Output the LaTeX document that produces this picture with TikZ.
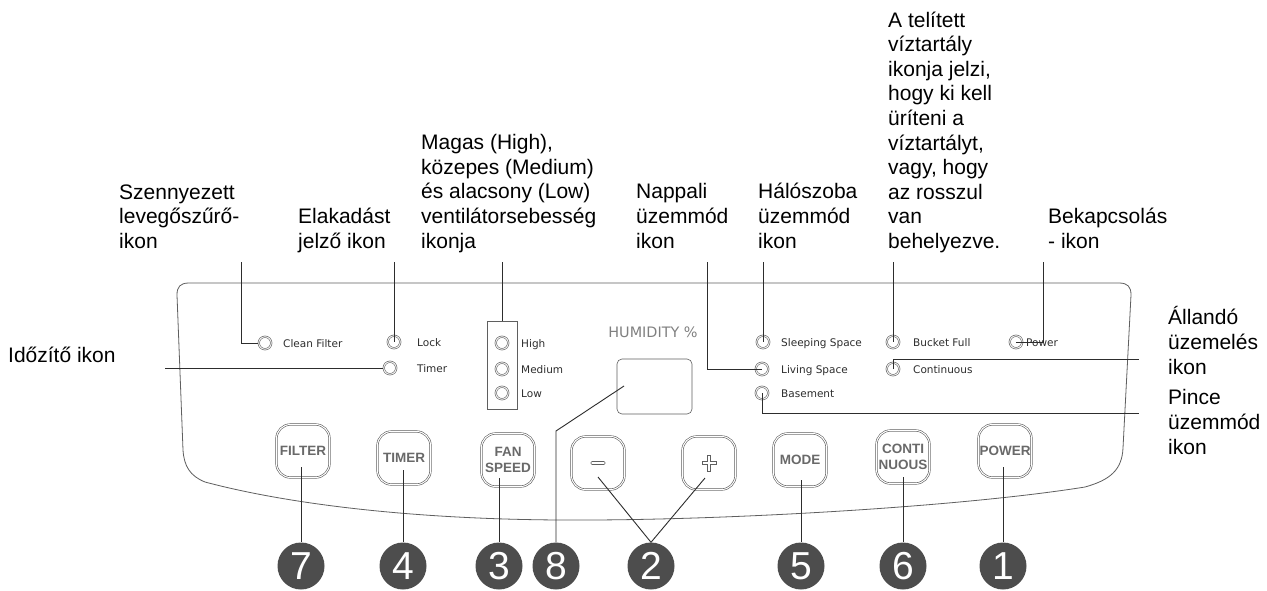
\documentclass[tikz,border=0pt]{standalone}
\usepackage{fontspec}
\setmainfont{Liberation Sans}
\newfontfamily\ledfont{DejaVu Sans}
\usetikzlibrary{calc}
\definecolor{badgecol}{RGB}{77,77,77}
\definecolor{ink}{RGB}{45,45,45}
\definecolor{btngray}{RGB}{105,105,105}
\definecolor{edgegray}{RGB}{95,95,95}
\begin{document}
\begin{tikzpicture}[x=1pt,y=-1pt,
  lbl/.style={font=\fontsize{21}{24.6}\selectfont, align=left, anchor=base west, inner sep=0pt, text=black},
  led/.style={circle, minimum size=12.5pt, inner sep=0pt, draw=edgegray, double=white, double distance=0.9pt, line width=0.6pt},
  ledtxt/.style={font=\ledfont\fontsize{10.5}{12}\selectfont, anchor=base west, inner sep=0pt, text=ink},
  btn/.style={draw=edgegray, double=white, double distance=1pt, line width=0.6pt, rounded corners=14pt, minimum width=53pt, minimum height=53pt, inner sep=0pt, font=\bfseries\fontsize{13.5}{15.5}\selectfont, text=btngray, align=center},
  badge/.style={circle, fill=badgecol, minimum size=47pt, inner sep=0pt, text=white, font=\fontsize{39}{40}\selectfont},
  conn/.style={draw=ink, line width=0.9pt},
  panel/.style={draw=edgegray, line width=0.8pt},
  glyph/.style={draw=edgegray, line width=0.6pt}]
\useasboundingbox[fill=white] (0,0) rectangle (1267,590);

% panel outline
\draw[panel] (183,450) -- (177,295) .. controls (177,287) and (180,283) .. (189,283)
  -- (1119,283) .. controls (1128,283) and (1131,287) .. (1131,295)
  -- (1123,448) .. controls (1122,470) and (1110,480) .. (1085,487)
  .. controls (960,507) and (720,521) .. (560,520)
  .. controls (400,519) and (280,502) .. (205,482)
  .. controls (190,476) and (184,466) .. (183,450);

% labels (anchor = baseline of the last line)
\node[lbl] (lszuro) at (119,248.5) {Szennyezett\\levegőszűrő-\\ikon};
\node[lbl] (lelak) at (298,248.5) {Elakadást\\jelző ikon};
\node[lbl] (lfan) at (421,248) {Magas (High),\\közepes (Medium)\\és alacsony (Low)\\ventilátorsebesség\\ikonja};
\node[lbl] (lnap) at (636,248) {Nappali\\üzemmód\\ikon};
\node[lbl] (lhalo) at (758,248) {Hálószoba\\üzemmód\\ikon};
\node[lbl] (ltank) at (888,248.5) {A telített\\víztartály\\ikonja jelzi,\\hogy ki kell\\üríteni a\\víztartályt,\\vagy, hogy\\az rosszul\\van\\behelyezve.};
\node[lbl] (lbek) at (1048,248) {Bekapcsolás\\- ikon};
\node[lbl] (lido) at (8,362) {Időzítő ikon};
\node[lbl] (lall) at (1168,374) {Állandó\\üzemelés\\ikon};
\node[lbl] (lpin) at (1168,454) {Pince\\üzemmód\\ikon};

% LEDs
\node[led] (cf) at (265,343) {};
\node[led] (lock) at (394,342) {};
\node[led] (timer) at (390,368) {};
\node[led] (high) at (502,343) {};
\node[led] (med) at (502,369) {};
\node[led] (low) at (502,393) {};
\node[led] (sleep) at (763,342) {};
\node[led] (living) at (762,369) {};
\node[led] (base) at (762,393) {};
\node[led] (bucket) at (893,342) {};
\node[led] (cont) at (893,369) {};
\node[led] (power) at (1016,342) {};

\node[ledtxt] (tcfl) at (283,347) {Clean Filter};
\node[ledtxt] (tlockl) at (417,346) {Lock};
\node[ledtxt] (ttimerl) at (417,372) {Timer};
\node[ledtxt] (thighl) at (521,347) {High};
\node[ledtxt] (tmedl) at (521,373) {Medium};
\node[ledtxt] (tlowl) at (521,397) {Low};
\node[ledtxt] (tsleepl) at (781,346) {Sleeping Space};
\node[ledtxt] (tlivl) at (781,373) {Living Space};
\node[ledtxt] (tbasel) at (781,397) {Basement};
\node[ledtxt] (tbuckl) at (913,346) {Bucket Full};
\node[ledtxt] (tcontl) at (913,373) {Continuous};
\node[ledtxt] (tpowl) at (1026,346) {Power};

% fan box, display
\node[draw=edgegray, line width=0.6pt, minimum width=30pt, minimum height=88pt, inner sep=0pt] (fanbox) at (502,365) {};
\node[font=\ledfont\fontsize{14.4}{16}\selectfont, text=gray, inner sep=0pt] (hum) at (653,332) {HUMIDITY \%};
\node[draw=edgegray, line width=0.6pt, rounded corners=5pt, minimum width=75pt, minimum height=55pt, inner sep=0pt] (disp) at (654.5,386.5) {};

% connectors to LEDs
\coordinate (tcf) at (241,262);
\coordinate (tlock) at (394,262);
\coordinate (ttimer) at (165,368);
\coordinate (tfan) at (502,262);
\coordinate (tliv) at (707,262);
\coordinate (tsleep) at (763,262);
\coordinate (tbuck) at (893,262);
\coordinate (tpow) at (1043,262);
\coordinate (eall) at (1139,359);
\coordinate (epin) at (1139,413);
\draw[conn] (tcf) |- (cf.west);
\draw[conn] (tlock) -- (lock.center);
\draw[conn] (ttimer) -- (timer.west);
\draw[conn] (tfan) -- (fanbox.north);
\draw[conn] (tliv) |- (living.center);
\draw[conn] (tsleep) -- (sleep.center);
\draw[conn] (tbuck) -- (bucket.center);
\draw[conn] (tpow) |- (power.center);
\draw[conn] (cont.center) |- (eall);
\draw[conn] (base.center) |- (epin);

% buttons
\node[btn] (btnF) at (303,451) {FILTER};
\node[btn] (btnT) at (404,458) {TIMER};
\node[btn] (btnS) at (508,460) {FAN\\SPEED};
\node[btn] (btnM) at (598,463) {};
\node[btn] (btnP) at (709,463) {};
\node[btn] (btnMo) at (800,460) {MODE};
\node[btn] (btnC) at (903,457) {CONTI\\NUOUS};
\node[btn] (btnPw) at (1005,451) {POWER};
\draw[glyph, rounded corners=1pt] ($(btnM.center)+(-7,-1.5)$) rectangle ($(btnM.center)+(7,1.5)$);
\begin{scope}[shift={(btnP.center)}]
\draw[glyph] (-1.5,-8) -- (1.5,-8) -- (1.5,-1.5) -- (7,-1.5) -- (7,1.5) -- (1.5,1.5) -- (1.5,8) -- (-1.5,8) -- (-1.5,1.5) -- (-7,1.5) -- (-7,-1.5) -- (-1.5,-1.5) -- cycle;
\end{scope}

% badges
\node[badge] (b7) at (301,566) {7};
\node[badge] (b4) at (403,566) {4};
\node[badge] (b3) at (499,566) {3};
\node[badge] (b8) at (556,566) {8};
\node[badge] (b2) at (651,566) {2};
\node[badge] (b5) at (801,566) {5};
\node[badge] (b6) at (903,566) {6};
\node[badge] (b1) at (1003,566) {1};

% button connectors
\draw[conn] ($(b7.north |- btnF.center)+(0,16)$) -- (b7.north);
\draw[conn] ($(b4.north |- btnT.center)+(0,12)$) -- (b4.north);
\draw[conn] ($(b3.north |- btnS.center)+(0,18)$) -- (b3.north);
\draw[conn] ($(b5.north |- btnMo.center)+(0,20)$) -- (b5.north);
\draw[conn] ($(b6.north |- btnC.center)+(0,20)$) -- (b6.north);
\draw[conn] ($(b1.north |- btnPw.center)+(0,16)$) -- (b1.north);
\draw[conn] ($(btnM.center)+(0,14)$) -- (b2.north) -- ($(btnP.center)+(-4,15)$);
\coordinate (d8) at (624,386);
\draw[conn] (d8) -- ($(b8.north |- d8)+(0,45)$) -- (b8.north);
\end{tikzpicture}
\end{document}
